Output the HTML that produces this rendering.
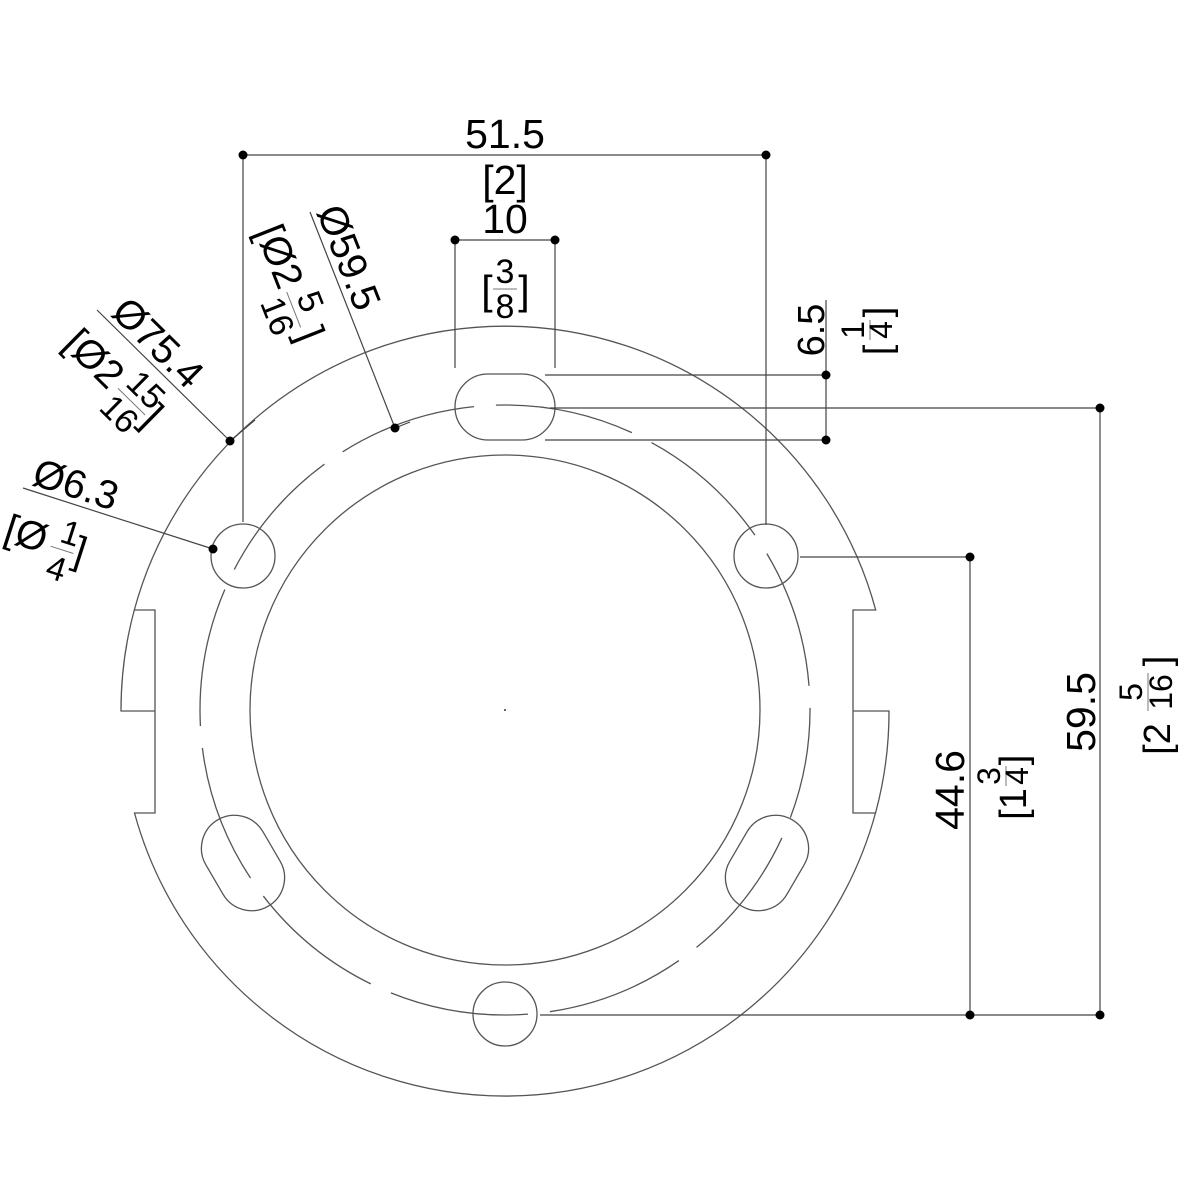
<!DOCTYPE html>
<html><head><meta charset="utf-8"><style>
html,body{margin:0;padding:0;background:#fff}
svg{display:block}
text{font-family:"Liberation Sans",Arial,sans-serif;fill:#000}
</style></head><body>
<svg width="1200" height="1200" viewBox="0 0 1200 1200" xmlns="http://www.w3.org/2000/svg">
<g fill="none" stroke="#555" stroke-width="1.3">
  <path d="M134.3,610 A384,384 0 0 1 875.7,610 L853,610 L853,813 L875.5,813 A384,384 0 0 1 134.5,813 L155,813 L155,610 Z"/>
  <path d="M134.3,610 A384,384 0 0 0 121,711 L155,711"/>
  <path d="M853,711 L889,711 A384,384 0 0 1 875.5,813"/>
  <circle cx="505" cy="710" r="255"/>
  <circle cx="505" cy="710" r="305" stroke-dasharray="140 22" stroke-dashoffset="30"/>
  <circle cx="243" cy="556" r="32"/>
  <circle cx="766" cy="556" r="32"/>
  <circle cx="505" cy="1014" r="32"/>
  <rect x="455" y="374" width="100" height="66" rx="33" ry="33"/>
  <rect x="193" y="830" width="100" height="66" rx="33" ry="33" transform="rotate(59.7 243 863)"/>
  <rect x="717" y="830" width="100" height="66" rx="33" ry="33" transform="rotate(-59.7 767 863)"/>
</g>
<circle cx="505" cy="710" r="1" fill="#333"/>

<g stroke="#444" stroke-width="1.2" fill="none">
  <line x1="243" y1="155" x2="766" y2="155"/>
  <line x1="243" y1="155" x2="243" y2="522"/>
  <line x1="766" y1="155" x2="766" y2="525"/>
  <line x1="455" y1="240" x2="555" y2="240"/>
  <line x1="455" y1="240" x2="455" y2="368"/>
  <line x1="555" y1="240" x2="555" y2="368"/>
  <line x1="826" y1="300" x2="826" y2="440"/>
  <line x1="545" y1="375" x2="826" y2="375"/>
  <line x1="545" y1="440" x2="826" y2="440"/>
  <line x1="550" y1="408" x2="1100" y2="408"/>
  <line x1="1100" y1="408" x2="1100" y2="1015"/>
  <line x1="540" y1="1015" x2="1100" y2="1015"/>
  <line x1="970" y1="557" x2="970" y2="1015"/>
  <line x1="800" y1="557" x2="970" y2="557"/>
  <line x1="97" y1="310" x2="230" y2="441"/>
  <line x1="230" y1="441" x2="255" y2="420"/>
  <line x1="310" y1="212" x2="395" y2="428"/>
  <line x1="395" y1="428" x2="410" y2="422"/>
  <line x1="23" y1="488" x2="213" y2="549"/>
</g>
<g fill="#000">
  <circle cx="243" cy="155" r="4.5"/><circle cx="766" cy="155" r="4.5"/>
  <circle cx="455" cy="240" r="4.5"/><circle cx="555" cy="240" r="4.5"/>
  <circle cx="826" cy="375" r="4.5"/><circle cx="826" cy="440" r="4.5"/>
  <circle cx="1100" cy="408" r="4.5"/><circle cx="1100" cy="1015" r="4.5"/>
  <circle cx="970" cy="557" r="4.5"/><circle cx="970" cy="1015" r="4.5"/>
  <circle cx="230" cy="441" r="4.5"/><circle cx="395" cy="428" r="4.5"/>
  <circle cx="213" cy="549" r="4.5"/>
</g>

<text x="505" y="148" font-size="41" text-anchor="middle">51.5</text>
<text x="505" y="194" font-size="41" text-anchor="middle">[2]</text>
<text x="505" y="233" font-size="41" text-anchor="middle">10</text>
<text x="487" y="304" font-size="41" text-anchor="middle">[</text>
<text x="524" y="304" font-size="41" text-anchor="middle">]</text>
<text x="505" y="283" font-size="34" text-anchor="middle">3</text>
<line x1="493" y1="289" x2="517" y2="289" stroke="#777" stroke-width="1"/>
<text x="505" y="318" font-size="34" text-anchor="middle">8</text>

<g transform="translate(824,330) rotate(-90)">
  <text x="0" y="0" font-size="38" text-anchor="middle">6.5</text>
</g>
<g transform="translate(890,330) rotate(-90)">
  <text x="-20" y="0" font-size="38" text-anchor="middle">[</text>
  <text x="18" y="0" font-size="38" text-anchor="middle">]</text>
  <text x="0" y="-26" font-size="32" text-anchor="middle">1</text>
  <line x1="-10" y1="-20" x2="10" y2="-20" stroke="#777" stroke-width="1"/>
  <text x="0" y="2" font-size="32" text-anchor="middle">4</text>
</g>

<g transform="translate(964,790) rotate(-90)">
  <text x="0" y="0" font-size="41" text-anchor="middle">44.6</text>
</g>
<g transform="translate(1026,790) rotate(-90)">
  <text x="-14" y="0" font-size="38" text-anchor="middle">[1</text>
  <text x="30" y="0" font-size="38" text-anchor="middle">]</text>
  <text x="14" y="-26" font-size="32" text-anchor="middle">3</text>
  <line x1="4" y1="-20" x2="24" y2="-20" stroke="#777" stroke-width="1"/>
  <text x="14" y="2" font-size="32" text-anchor="middle">4</text>
</g>

<g transform="translate(1095,712) rotate(-90)">
  <text x="0" y="0" font-size="41" text-anchor="middle">59.5</text>
</g>
<g transform="translate(1170,705) rotate(-90)">
  <text x="-34" y="0" font-size="38" text-anchor="middle">[2</text>
  <text x="44" y="0" font-size="38" text-anchor="middle">]</text>
  <text x="13" y="-28" font-size="32" text-anchor="middle">5</text>
  <line x1="-6" y1="-22" x2="32" y2="-22" stroke="#777" stroke-width="1"/>
  <text x="13" y="2" font-size="32" text-anchor="middle">16</text>
</g>

<g transform="translate(97,310) rotate(44.6)">
  <text x="12" y="-6" font-size="40">Ø75.4</text>
  <text x="0" y="50" font-size="40">[Ø2</text>
  <text x="72" y="34" font-size="34">15</text>
  <line x1="70" y1="41" x2="108" y2="41" stroke="#777" stroke-width="1"/>
  <text x="70" y="70" font-size="34">16</text>
  <text x="108" y="50" font-size="40">]</text>
</g>

<g transform="translate(310,212) rotate(68.5)">
  <text x="2" y="-6" font-size="40">Ø59.5</text>
  <text x="-2" y="58" font-size="40">[Ø2</text>
  <text x="74" y="44" font-size="34">5</text>
  <line x1="66" y1="51" x2="104" y2="51" stroke="#777" stroke-width="1"/>
  <text x="66" y="80" font-size="34">16</text>
  <text x="108" y="58" font-size="40">]</text>
</g>

<g transform="translate(23,488) rotate(17.8)">
  <text x="6" y="-6" font-size="40">Ø6.3</text>
  <text x="-4" y="56" font-size="40">[Ø</text>
  <text x="50" y="40" font-size="34">1</text>
  <line x1="44" y1="47" x2="68" y2="47" stroke="#777" stroke-width="1"/>
  <text x="47" y="78" font-size="34">4</text>
  <text x="68" y="56" font-size="40">]</text>
</g>
</svg>
</body></html>
